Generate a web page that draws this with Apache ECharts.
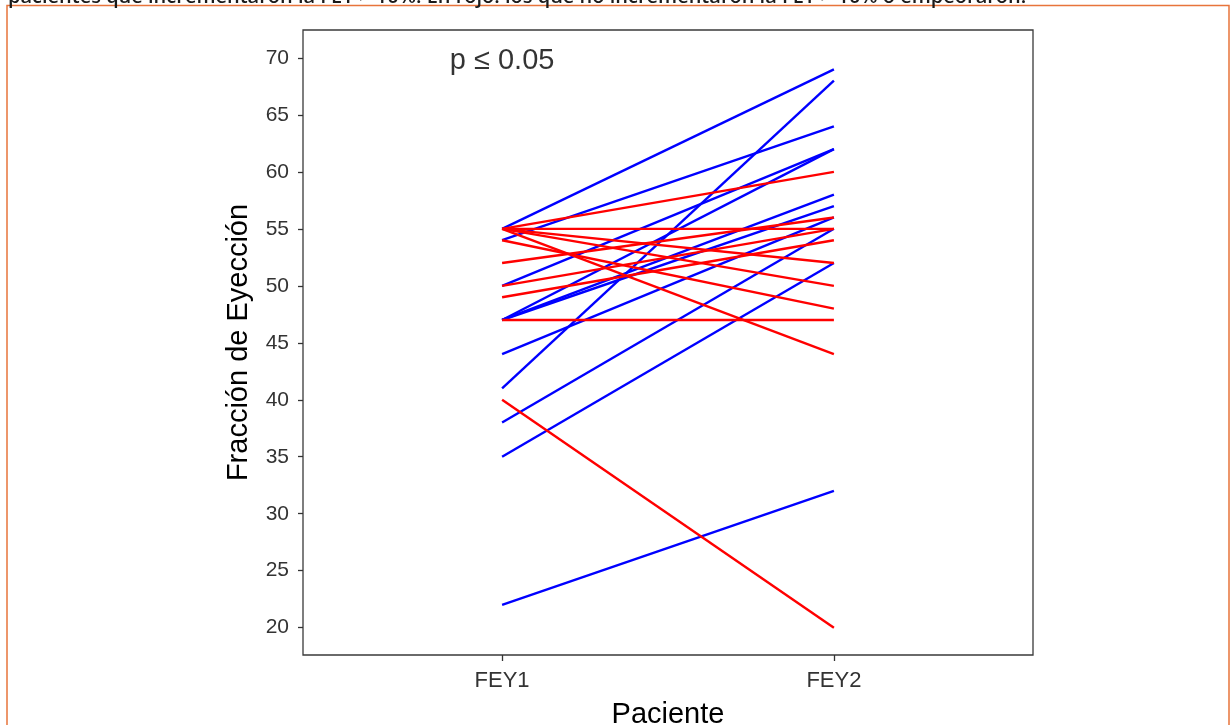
<!DOCTYPE html>
<html>
<head>
<meta charset="utf-8">
<script src="https://cdn.jsdelivr.net/npm/echarts@6/dist/echarts.min.js"></script>
<style>
html,body{margin:0;padding:0;background:#fff;}
#chart{width:1231px;height:725px;}
</style>
</head>
<body>
<div id="chart"></div>
<script>
// ---- data ----
const categories = ['FEY1', 'FEY2'];
const fey1 = [55, 54, 41, 50, 47, 47, 47, 44, 38, 35, 22,  55, 55, 55, 55, 54, 55, 52, 50, 49, 47, 40];
const fey2 = [69, 64, 68, 62, 62, 58, 57, 56, 55, 52, 32,  60, 55, 52, 50, 48, 44, 56, 55, 54, 47, 20];
const grupo = ['up','up','up','up','up','up','up','up','up','up','up',
               'down','down','down','down','down','down','down','down','down','down','down'];
const yTicks = [20, 25, 30, 35, 40, 45, 50, 55, 60, 65, 70];
const pText = 'p \u2264 0.05';
const pPos = [1, 69.7];
const caption = 'pacientes que incrementaron la FEY > 10%. En rojo: los que no incrementaron la FEY > 10% o empeoraron.';
const colors = {up: '#0000FF', down: '#FF0000'};

const chart = echarts.init(document.getElementById('chart'), null, {renderer: 'canvas'});
const font = 'Liberation Sans, Arial, sans-serif';

const series = [];
['up', 'down'].forEach(g => {
  fey1.forEach((v, i) => {
    if (grupo[i] !== g) return;
    series.push({
      type: 'line',
      data: [[1, v], [2, fey2[i]]],
      symbol: 'none',
      silent: true,
      lineStyle: {color: colors[g], width: 2.4},
      z: 3
    });
  });
});
series.push({
  type: 'scatter',
  data: [pPos],
  symbolSize: 1,
  itemStyle: {color: 'rgba(0,0,0,0)'},
  silent: true,
  label: {
    show: true, position: 'inside', formatter: pText,
    fontSize: 29, color: '#000', fontFamily: font
  },
  z: 5
});

chart.setOption({
  animation: false,
  backgroundColor: '#fff',
  grid: {
    left: 303, top: 30, width: 730, height: 625,
    outerBoundsMode: 'none', containLabel: false,
    show: true, borderColor: '#3a3a3a', borderWidth: 1.3, backgroundColor: '#fff'
  },
  xAxis: {
    type: 'value', min: 0.4, max: 2.6,
    axisLine: {show: false},
    splitLine: {show: false},
    axisTick: {show: true, customValues: [1, 2], length: 6, lineStyle: {color: '#333', width: 1.3}},
    axisLabel: {
      customValues: [1, 2],
      formatter: v => categories[Math.round(v) - 1] || '',
      fontSize: 22, color: '#333', margin: 15, fontFamily: font
    },
    name: 'Paciente', nameLocation: 'middle', nameGap: 45,
    nameTextStyle: {fontSize: 29, color: '#000', fontFamily: font}
  },
  yAxis: {
    type: 'value', min: 17.6, max: 72.45,
    axisLine: {show: false},
    splitLine: {show: false},
    axisTick: {show: true, customValues: yTicks, length: 5, lineStyle: {color: '#333', width: 1.3}},
    axisLabel: {
      customValues: yTicks,
      fontSize: 21, color: '#333', margin: 14, fontFamily: font
    },
    name: 'Fracción de Eyección', nameLocation: 'middle', nameGap: 50,
    nameTextStyle: {fontSize: 29, color: '#000', fontFamily: font}
  },
  graphic: [
    {
      type: 'rect', silent: true, z: 100,
      shape: {x: 7, y: 5.5, width: 1222, height: 760},
      style: {fill: 'none', stroke: '#E8743B', lineWidth: 1.5}
    },
    {
      type: 'text', silent: true, z: 101,
      x: 8, y: 7,
      style: {
        text: caption, fontSize: 20, fontWeight: 600, fill: '#1a1a1a',
        fontFamily: 'Open Sans, Noto Sans, sans-serif', verticalAlign: 'bottom'
      }
    }
  ],
  series: series
});
</script>
</body>
</html>
